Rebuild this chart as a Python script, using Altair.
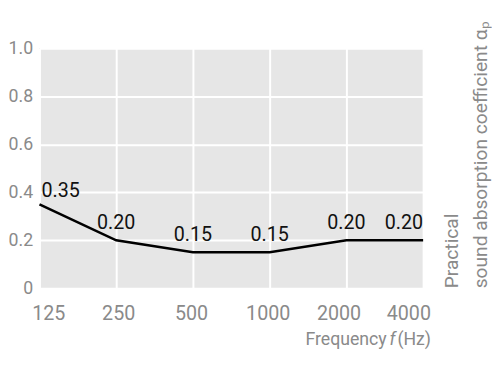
import altair as alt
import pandas as pd

# ---- data ----
freqs = [125, 250, 500, 1000, 2000, 4000]
alpha = [0.35, 0.20, 0.15, 0.15, 0.20, 0.20]
value_labels = ["0.35", "0.20", "0.15", "0.15", "0.20", "0.20"]
y_ticks = [0, 0.2, 0.4, 0.6, 0.8, 1.0]
x_title_parts = ["Frequency", "f", "(Hz)"]
y_title_lines = ["Practical", "sound absorption coefficient \u03b1\u209a"]

df = pd.DataFrame({"f": freqs, "a": alpha, "lab": value_labels, "i": list(range(len(freqs)))})

FONT = "Roboto"
GRAY = "#8a8a8a"
FS = 20

x_offsets = {125: 9, 250: 2, 500: -2, 1000: -2, 2000: -8, 4000: -15}
x_label_offset = {
    "condition": [{"test": f"datum.value == {k}", "value": v} for k, v in x_offsets.items()],
    "value": 0,
}

x = alt.X(
    "f:Q",
    scale=alt.Scale(type="log", domain=[125, 4000], nice=False),
    axis=alt.Axis(
        values=freqs, title=None, format="d", grid=True, gridColor="white", gridWidth=2,
        domain=False, ticks=False, tickSize=0, labelFontSize=FS, labelColor=GRAY, labelFont=FONT,
        labelPadding=32, labelBaseline="alphabetic", labelFlush=False, labelOverlap=False,
        labelBound=False, labelOffset=x_label_offset,
    ),
)
y = alt.Y(
    "a:Q",
    scale=alt.Scale(domain=[0, 1], nice=False),
    axis=alt.Axis(
        values=y_ticks, title=None, grid=True, gridColor="white", gridWidth=2,
        domain=False, ticks=False, tickSize=0, labelFontSize=18, labelColor=GRAY, labelFont=FONT,
        labelPadding=7, labelBaseline="middle", labelOverlap=False, labelBound=False, labelFlush=False,
        labelExpr="datum.value == 0 ? '0' : format(datum.value, '.1f')",
    ),
)

base = alt.Chart(df)
line = base.mark_line(color="black", strokeWidth=2.6).encode(x=x, y=y)

txt = dict(fontSize=FS, font=FONT, color="#111111", baseline="alphabetic")
first = base.transform_filter("datum.i == 0").mark_text(align="left", dx=2, dy=-7, **txt).encode(
    x="f:Q", y="a:Q", text="lab:N")
mid = base.transform_filter("datum.i > 0 && datum.i < 5").mark_text(align="center", dy=-11, **txt).encode(
    x="f:Q", y="a:Q", text="lab:N")
last = base.transform_filter("datum.i == 5").mark_text(align="right", dy=-11, **txt).encode(
    x="f:Q", y="a:Q", text="lab:N")

tdf = pd.DataFrame({"t": [0]})
ttl = dict(fontSize=18, font=FONT, color=GRAY, baseline="alphabetic", align="right")
t1 = alt.Chart(tdf).mark_text(**ttl).encode(x=alt.value(353), y=alt.value(302), text=alt.value(x_title_parts[0]))
t2 = alt.Chart(tdf).mark_text(fontStyle="italic", **ttl).encode(x=alt.value(362), y=alt.value(302), text=alt.value(x_title_parts[1]))
t3 = alt.Chart(tdf).mark_text(**ttl).encode(x=alt.value(398), y=alt.value(302), text=alt.value(x_title_parts[2]))
rt = dict(ttl, fontSize=19.5, align="left")
r1 = alt.Chart(tdf).mark_text(angle=270, **rt).encode(x=alt.value(425), y=alt.value(244), text=alt.value(y_title_lines[0]))
r2 = alt.Chart(tdf).mark_text(angle=270, **rt).encode(x=alt.value(455), y=alt.value(244), text=alt.value(y_title_lines[1]))

chart = alt.layer(line, first, mid, last, t1, t2, t3, r1, r2).properties(
    width=390, height=244,
    padding={"left": 32, "top": 38, "right": 70, "bottom": 75},
    autosize=alt.AutoSizeParams(type="none"),
).configure_view(fill="#e6e6e6", strokeWidth=0)

chart.save("out.html", embed_options={"renderer": "svg", "actions": False})
